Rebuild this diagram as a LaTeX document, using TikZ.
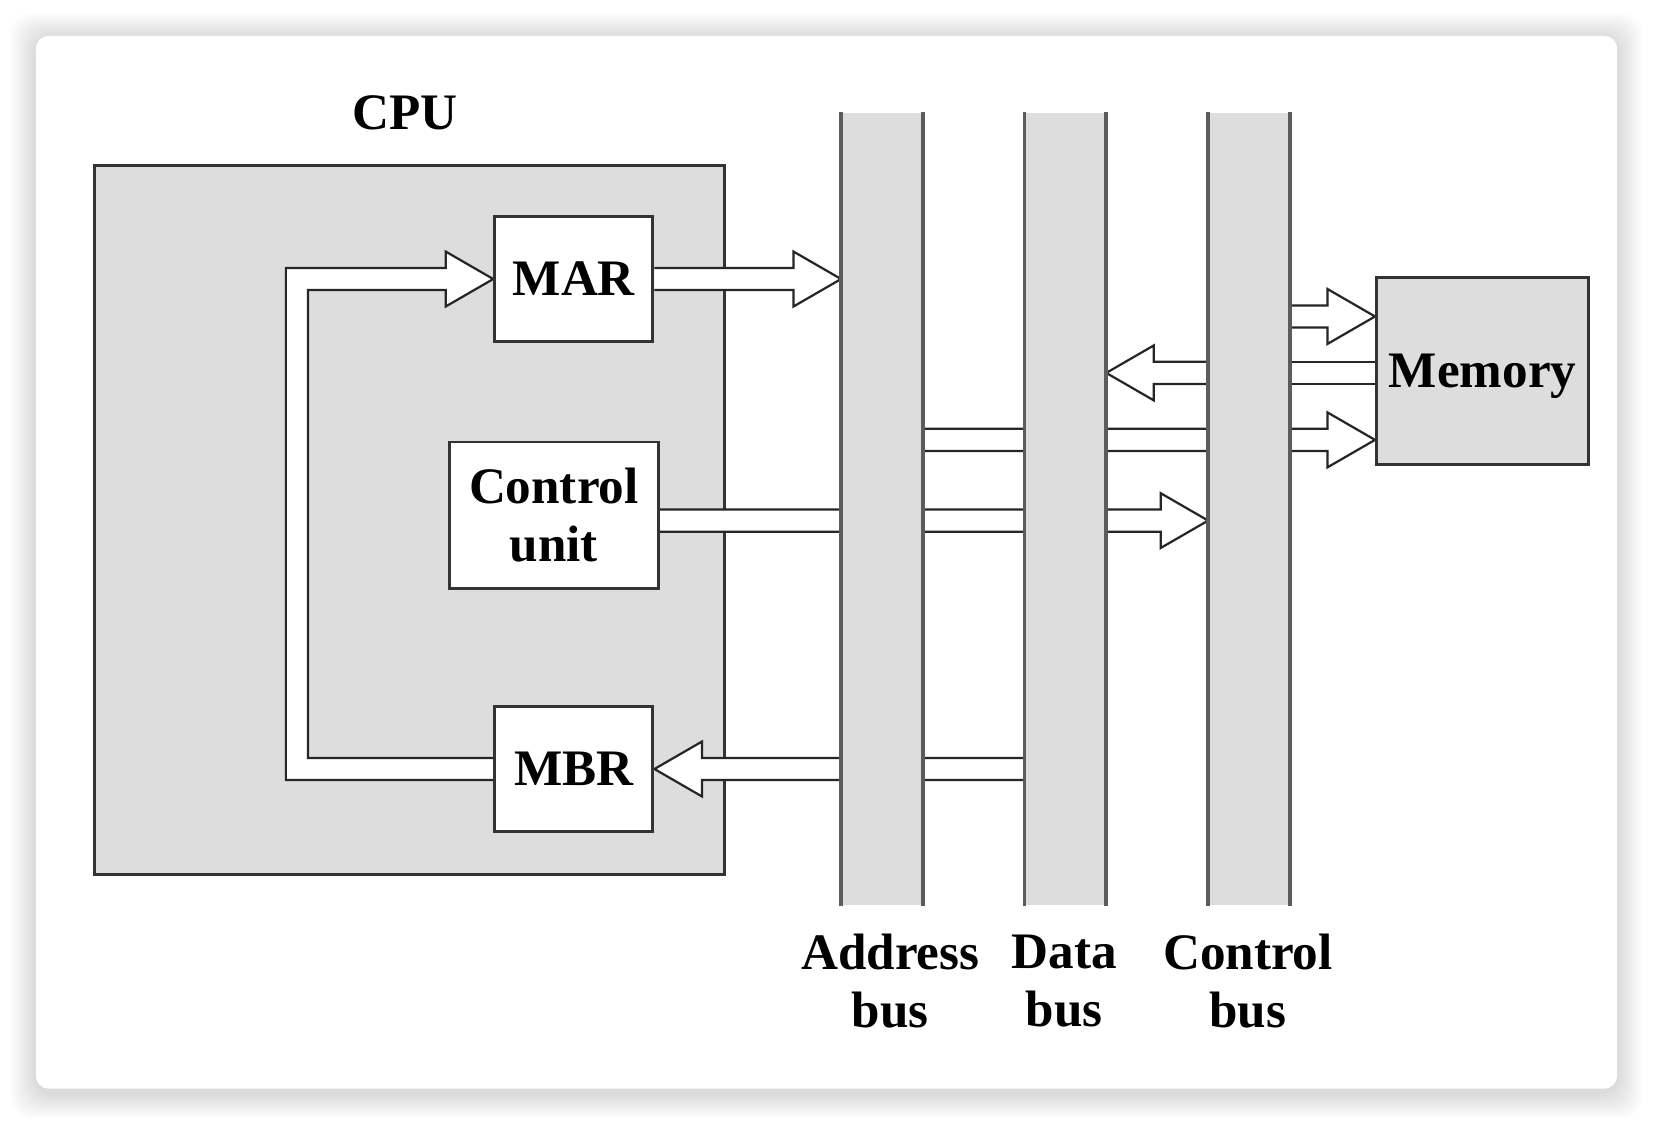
\documentclass[tikz,border=0pt]{standalone}
\usepackage{fontspec}
\setmainfont{Liberation Serif}
\usetikzlibrary{calc}

\pgfdeclarelayer{background}
\pgfdeclarelayer{arrows}
\pgfsetlayers{background,arrows,main}

\definecolor{boxgray}{HTML}{DDDDDD}
\definecolor{linegray}{HTML}{5C5C5C}

% sizes of the hollow block arrows
\newcommand{\shaftw}{0.105cm}
\newcommand{\headw}{0.26cm}
\newcommand{\headl}{0.45cm}

% hollow arrow: #1 start, #2 tip (same height), #3 direction (1 right, -1 left)
\newcommand{\blockarrow}[3]{%
    \draw[blockarrow] let \p1=(#1), \p2=(#2) in
        (\x1,\y2+\shaftw) -- ({\x2-(#3)*\headl},\y2+\shaftw)
        -- ({\x2-(#3)*\headl},\y2+\headw) -- (\x2,\y2)
        -- ({\x2-(#3)*\headl},\y2-\headw) -- ({\x2-(#3)*\headl},\y2-\shaftw)
        -- (\x1,\y2-\shaftw);}

\begin{document}
\begin{tikzpicture}[
    font=\bfseries\fontsize{13.8}{15.6}\selectfont,
    regbox/.style={
        draw=black!80,
        line width=0.8pt,
        fill=white,
        minimum width=1.5cm,
        minimum height=1.19cm
    },
    busbar/.style={
        fill=boxgray,
        inner sep=0pt,
        minimum width=0.76cm,
        minimum height=7.51cm
    },
    busline/.style={draw=linegray, line width=1pt},
    blockarrow/.style={draw=black!85, fill=white, line width=0.6pt},
    buslabel/.style={align=center}
]

\useasboundingbox (0,0) rectangle (15.68,-10.67);

% Card with soft shadow
\begin{pgfonlayer}{background}
    \fill[white] (0,0) rectangle (15.68,-10.67);
    \foreach \d in {0.02,0.04,...,0.24}
        \fill[black, opacity=0.013, rounded corners=0.2cm]
            (0.34-\d,-0.36+\d) rectangle (15.33+\d,-10.36-\d);
    \fill[white, rounded corners=0.12cm] (0.34,-0.34) rectangle (15.33,-10.32);

    % CPU block
    \node[draw=black!80, line width=0.8pt, fill=boxgray,
          minimum width=5.97cm, minimum height=6.72cm] (cpu) at (3.885,-4.93) {};
\end{pgfonlayer}

\node (cpulabel) at (3.84,-1.07) {CPU};

% Registers and control unit
\node[regbox] (mar) at (5.44,-2.645) {MAR};
\node[regbox, minimum width=1.98cm, minimum height=1.39cm, align=center]
    (cu) at (5.25,-4.885) {Control\\unit};
\node[regbox] (mbr) at (5.44,-7.29) {MBR};

% Buses
\node[busbar] (abus) at (8.36,-4.825) {};
\node[busbar] (dbus) at (10.10,-4.825) {};
\node[busbar] (cbus) at (11.84,-4.825) {};
\foreach \b in {abus,dbus,cbus} {
    \draw[busline] (\b.north west) -- (\b.south west);
    \draw[busline] (\b.north east) -- (\b.south east);
}

\node[buslabel] (alabel) at (8.44,-9.30) {Address\\bus};
\node[buslabel] (dlabel) at (10.09,-9.30) {Data\\bus};
\node[buslabel] (clabel) at (11.83,-9.30) {Control\\bus};

% Memory
\node[regbox, fill=boxgray, text depth=0pt, minimum width=1.99cm, minimum height=1.77cm]
    (mem) at (14.055,-3.515) {Memory};

\coordinate (loopx) at (2.815,0);

% Block arrows
\begin{pgfonlayer}{arrows}
    % MBR back to MAR
    \draw[blockarrow] let \p1=(mar.west), \p2=(mbr.west), \p3=(loopx) in
        (\x2,\y2-\shaftw) -- (\x3-\shaftw,\y2-\shaftw)
        -- (\x3-\shaftw,\y1+\shaftw) -- (\x1-\headl,\y1+\shaftw)
        -- (\x1-\headl,\y1+\headw) -- (\x1,\y1)
        -- (\x1-\headl,\y1-\headw) -- (\x1-\headl,\y1-\shaftw)
        -- (\x3+\shaftw,\y1-\shaftw) -- (\x3+\shaftw,\y2+\shaftw)
        -- (\x2,\y2+\shaftw);

    \blockarrow{mar.east}{abus.west |- mar.east}{1}
    \blockarrow{$(cu.east)+(0,-0.05)$}{$(cbus.west |- cu.east)+(0,-0.05)$}{1}
    \blockarrow{dbus.west |- mbr.east}{mbr.east}{-1}

    % Memory side
    \blockarrow{$(cbus.east |- mem.west)+(0,0.515)$}{$(mem.west)+(0,0.515)$}{1}
    \blockarrow{$(cbus.west |- mem.west)+(0,-0.02)$}{$(dbus.east |- mem.west)+(0,-0.02)$}{-1}
    \draw[blockarrow] let \p1=(cbus.east), \p2=(mem.west) in
        (\x1,\y2-0.02cm+\shaftw) -- (\x2,\y2-0.02cm+\shaftw)
        (\x1,\y2-0.02cm-\shaftw) -- (\x2,\y2-0.02cm-\shaftw);
    \blockarrow{$(abus.east |- mem.west)+(0,-0.655)$}{$(mem.west)+(0,-0.655)$}{1}
\end{pgfonlayer}

\end{tikzpicture}
\end{document}
